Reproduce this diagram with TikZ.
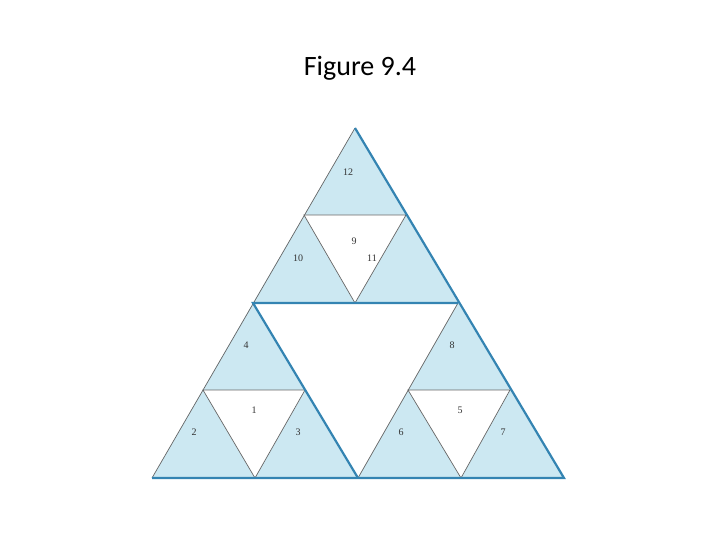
\documentclass[tikz,border=0pt]{standalone}
\usepackage{fontspec}
\setmainfont{Liberation Serif}
\newfontfamily\titlefont{Carlito}
\definecolor{paleblue}{RGB}{204,232,242}
\definecolor{edgeblue}{RGB}{52,132,178}
\begin{document}
\begin{tikzpicture}[x=1pt,y=-1pt,
  thin edge/.style={draw=gray!80!black, line width=0.7pt},
  thick edge/.style={draw=edgeblue, line width=2.2pt},
  num/.style={font=\fontsize{10}{12}\selectfont, text=gray!40!black}]
\useasboundingbox (0,0) rectangle (720,540);

% Titulo
\node[font=\titlefont\fontsize{28}{32}\selectfont] (title) at (360,68) {Figure 9.4};

% Vertices del triangulo grande y puntos medios
\coordinate (A) at (355,128);
\coordinate (L) at (152,478);
\coordinate (R) at (564,478);
\coordinate (ML) at (253,303);
\coordinate (MR) at (458,303);
\coordinate (MB) at (358,478);

% Relleno azul de los tres triangulos exteriores
\fill[paleblue] (A) -- (ML) -- (MR) -- cycle;
\fill[paleblue] (ML) -- (L) -- (MB) -- cycle;
\fill[paleblue] (MR) -- (MB) -- (R) -- cycle;

% Triangulos blancos interiores
\coordinate (t1) at (304,215); \coordinate (t2) at (406,215); \coordinate (t3) at (355,303);
\coordinate (l1) at (203,390); \coordinate (l2) at (305,390); \coordinate (l3) at (255,478);
\coordinate (r1) at (408,390); \coordinate (r2) at (510,390); \coordinate (r3) at (461,478);
\filldraw[fill=white, thin edge] (t1) -- (t2) -- (t3) -- cycle;
\filldraw[fill=white, thin edge] (l1) -- (l2) -- (l3) -- cycle;
\filldraw[fill=white, thin edge] (r1) -- (r2) -- (r3) -- cycle;

% Lados finos
\draw[thin edge] (A) -- (L);
\draw[thin edge] (MR) -- (MB);

% Lados gruesos
\draw[thick edge] (A) -- (R) -- (L);
\draw[thick edge] (MR) -- (ML) -- (MB);

% Numeros
\node[num] (n12) at (348,172) {12};
\node[num] (n9) at (354,241) {9};
\node[num] (n10) at (298,258) {10};
\node[num] (n11) at (372,258) {11};
\node[num] (n4) at (246,345) {4};
\node[num] (n8) at (452,345) {8};
\node[num] (n1) at (254,410) {1};
\node[num] (n2) at (194,432) {2};
\node[num] (n3) at (298,432) {3};
\node[num] (n5) at (460,410) {5};
\node[num] (n6) at (401,432) {6};
\node[num] (n7) at (503,432) {7};
\end{tikzpicture}
\end{document}
